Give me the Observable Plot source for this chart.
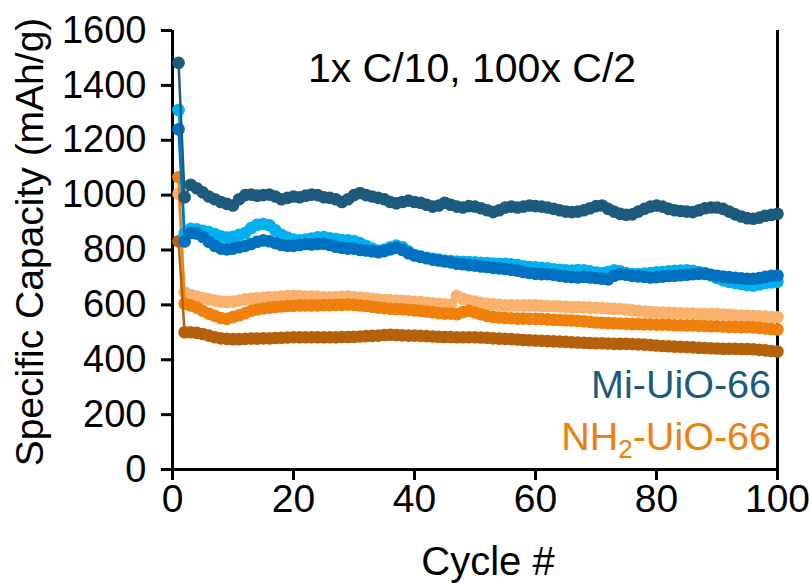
<!DOCTYPE html>
<html>
<head>
<meta charset="utf-8">
<script src="https://cdn.jsdelivr.net/npm/d3@7"></script>
<script src="https://cdn.jsdelivr.net/npm/@observablehq/plot@0.6"></script>
<style>
  body { margin: 0; background: #fff; }
  #chart svg { display: block; }
</style>
</head>
<body>
<div id="chart"></div>
<script>
// Cycle numbers 1..100 (1x C/10 formation cycle, then C/2 cycling)
const cycles = d3.range(1, 101);

// Mi-UiO-66 cells (mAh/g)
const miCellA = [1482, 992, 1038, 1025, 1010, 995, 985, 975, 968, 962,
  985, 1000, 1002, 998, 1000, 1002, 995, 985, 990, 995,
  992, 998, 1002, 1000, 992, 990, 985, 975, 985, 1000,
  1008, 1000, 995, 990, 985, 975, 970, 975, 980, 975,
  972, 965, 958, 962, 972, 965, 958, 955, 960, 958,
  952, 945, 938, 945, 955, 958, 955, 958, 962, 960,
  958, 955, 950, 945, 940, 938, 940, 945, 952, 960,
  962, 950, 940, 932, 928, 930, 940, 950, 958, 962,
  958, 950, 945, 942, 940, 938, 945, 952, 955, 955,
  950, 940, 930, 922, 916, 914, 918, 925, 928, 932];

const miCellB = [1240, 831, 862, 860, 848, 830, 815, 805, 802, 805,
  810, 815, 822, 830, 835, 832, 825, 818, 815, 815,
  818, 822, 820, 822, 823, 818, 812, 808, 805, 805,
  800, 798, 795, 792, 796, 802, 808, 800, 788, 780,
  775, 770, 765, 762, 758, 755, 750, 748, 745, 743,
  740, 738, 735, 733, 731, 728, 725, 720, 716, 713,
  712, 712, 710, 706, 703, 701, 700, 702, 700, 698,
  695, 693, 706, 712, 710, 706, 704, 702, 700, 701,
  703, 705, 706, 708, 710, 712, 713, 713, 710, 706,
  703, 701, 699, 697, 695, 695, 698, 702, 706, 707];

const miCellC = [1310, 860, 877, 875, 870, 865, 858, 850, 845, 848,
  855, 862, 880, 892, 895, 890, 872, 855, 845, 838,
  835, 838, 842, 846, 847, 843, 840, 836, 835, 833,
  825, 815, 805, 798, 802, 810, 816, 810, 795, 782,
  776, 772, 768, 765, 762, 760, 758, 757, 756, 755,
  753, 752, 751, 750, 750, 748, 745, 741, 738, 737,
  735, 733, 730, 728, 726, 725, 727, 726, 722, 718,
  716, 720, 726, 722, 716, 712, 712, 714, 716, 719,
  720, 722, 724, 725, 726, 724, 720, 716, 708, 698,
  690, 684, 680, 676, 672, 670, 674, 680, 682, 684];

// NH2-UiO-66 cells (mAh/g)
const nhCellA = [1005, 646, 636, 630, 624, 620, 616, 612, 610, 612,
  616, 620, 622, 624, 626, 628, 628, 630, 632, 633,
  632, 630, 630, 629, 628, 628, 628, 629, 630, 628,
  626, 624, 622, 620, 618, 617, 616, 615, 613, 611,
  610, 608, 606, 604, 602, 600, 632, 622, 616, 612,
  608, 604, 602, 600, 598, 598, 598, 598, 598, 598,
  597, 596, 595, 594, 593, 592, 592, 591, 590, 589,
  588, 587, 586, 585, 583, 580, 578, 576, 574, 573,
  572, 571, 570, 569, 568, 568, 567, 567, 567, 567,
  565, 564, 562, 561, 560, 559, 558, 557, 556, 555];

const nhCellB = [1065, 604, 598, 590, 578, 568, 560, 552, 549, 556,
  562, 570, 578, 583, 587, 590, 592, 594, 596, 597,
  598, 598, 598, 598, 599, 599, 600, 600, 601, 600,
  598, 596, 593, 590, 588, 586, 585, 584, 582, 580,
  578, 576, 573, 570, 568, 568, 566, 574, 578, 572,
  566, 560, 556, 554, 552, 551, 550, 550, 549, 549,
  548, 547, 546, 545, 544, 543, 542, 540, 538, 536,
  535, 534, 533, 532, 531, 530, 530, 529, 529, 528,
  528, 527, 526, 526, 525, 525, 524, 523, 522, 522,
  521, 520, 520, 519, 519, 518, 516, 514, 512, 510];

const nhCellC = [832, 500, 500, 498, 494, 488, 482, 478, 476, 475,
  475, 476, 477, 477, 478, 478, 479, 480, 481, 482,
  482, 482, 482, 482, 482, 482, 482, 483, 483, 484,
  485, 486, 487, 488, 490, 491, 490, 489, 488, 488,
  487, 486, 485, 484, 483, 483, 482, 482, 482, 482,
  481, 480, 478, 477, 476, 475, 474, 472, 471, 470,
  469, 468, 467, 466, 465, 464, 463, 462, 461, 460,
  460, 459, 458, 458, 458, 457, 456, 455, 454, 452,
  450, 449, 448, 447, 446, 445, 444, 443, 442, 441,
  440, 440, 440, 439, 439, 438, 436, 434, 432, 430];

const yTicks = [0, 200, 400, 600, 800, 1000, 1200, 1400, 1600];
const xTicks = [0, 20, 40, 60, 80, 100];

// drawing order: back to front
const series = [
  {key: "nhA", values: nhCellA, color: "#f9b16d"},
  {key: "nhB", values: nhCellB, color: "#f0800c"},
  {key: "nhC", values: nhCellC, color: "#b5600b"},
  {key: "miC", values: miCellC, color: "#00b0f0"},
  {key: "miB", values: miCellB, color: "#0070c0"},
  {key: "miA", values: miCellA, color: "#1c5a7e"}
];

const font = "'Liberation Sans', Arial, sans-serif";

const marks = [
  Plot.ruleX([0, 100], {stroke: "#000", strokeWidth: 3}),
  Plot.ruleY([0], {stroke: "#000", strokeWidth: 3}),
  Plot.axisY({ticks: yTicks, tickSize: 11, tickPadding: 15, fontSize: 38, label: null, strokeWidth: 3, tickFormat: d => String(d)}),
  // bottom ticks; their labels are set a little lower as a text mark
  Plot.axisX({ticks: xTicks, tickSize: 11, label: null, strokeWidth: 3, tickFormat: () => ""}),
  Plot.text(xTicks, {x: d => d, frameAnchor: "bottom", dy: 42, fontSize: 39, text: d => String(d), fill: "#000"})
];

for (const s of series) {
  const rows = s.values.map((v, i) => ({cycle: cycles[i], capacity: v}));
  marks.push(Plot.line(rows, {x: "cycle", y: "capacity", stroke: s.color, strokeWidth: 2.5}));
  marks.push(Plot.dot(rows, {x: "cycle", y: "capacity", r: 6.3, fill: s.color, stroke: "none"}));
}

const chart = Plot.plot({
  width: 809,
  height: 584,
  marginLeft: 172,
  marginRight: 32,
  marginTop: 30,
  marginBottom: 115,
  x: {domain: [0, 100]},
  y: {domain: [0, 1600]},
  style: {fontFamily: font, color: "#000", background: "#fff", overflow: "visible"},
  marks
});

document.getElementById("chart").append(chart);

// titles and series labels
const svg = d3.select(chart);
const txt = (x, y, s, opts = {}) => svg.append("text")
  .attr("x", x).attr("y", y)
  .attr("font-family", font)
  .attr("font-size", opts.size || 38)
  .attr("text-anchor", opts.anchor || "middle")
  .attr("fill", opts.fill || "#000")
  .text(s);

txt(472, 82, "1x C/10, 100x C/2", {size: 41});
txt(488, 575, "Cycle #", {size: 40});

svg.append("text")
  .attr("transform", "translate(43,242) rotate(-90)")
  .attr("font-family", font)
  .attr("font-size", 39)
  .attr("text-anchor", "middle")
  .attr("fill", "#000")
  .text("Specific Capacity (mAh/g)");

txt(771, 398, "Mi-UiO-66", {size: 39.5, anchor: "end", fill: "#1c5a7e"});

const nh = svg.append("text")
  .attr("x", 771).attr("y", 450)
  .attr("font-family", font)
  .attr("font-size", 39.5)
  .attr("text-anchor", "end")
  .attr("fill", "#f0800c");
nh.append("tspan").text("NH");
nh.append("tspan").attr("font-size", 26).attr("dy", 8).text("2");
nh.append("tspan").attr("dy", -8).text("-UiO-66");
</script>
</body>
</html>
